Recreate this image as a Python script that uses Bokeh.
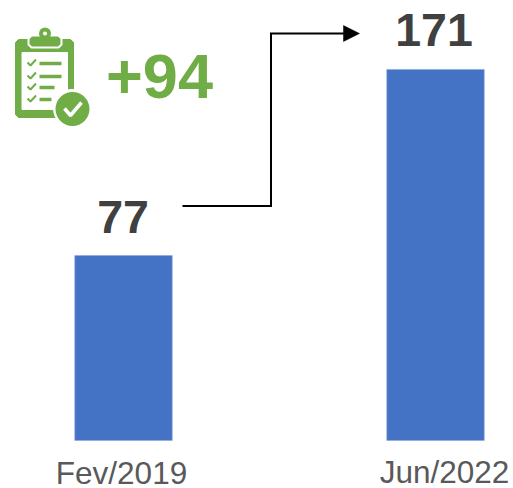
from bokeh.plotting import figure
from bokeh.embed import file_html
from bokeh.resources import INLINE
from bokeh.models import Range1d
from bokeh.core.properties import value

# Chart data
categories = ["Fev/2019", "Jun/2022"]
values = [77, 171]
delta_label = "+94"
bar_positions = [0, 1]

BLUE = "#4472C4"
GREEN = "#70AD47"
DARK = "#404040"
GREY = "#595959"
FONT = value("Liberation Sans")

W, H = 513, 488
BASE = -16.5
p = figure(width=W, height=H, output_backend="svg", toolbar_location=None,
           x_range=Range1d(-123 / 312, (W - 123) / 312),
           y_range=Range1d(BASE - 48 / 1.979, BASE + 440 / 1.979),
           min_border=0, outline_line_color=None, background_fill_color="white")
p.axis.visible = False
p.grid.visible = False

# page-pixel overlay for annotations (page coordinates, y downward)
p.extra_x_ranges = {"px": Range1d(0, W)}
p.extra_y_ranges = {"px": Range1d(H, 0)}
kw = dict(x_range_name="px", y_range_name="px")

# Bars
p.vbar(x=bar_positions, top=values, bottom=BASE, width=97.5 / 312,
       fill_color=BLUE, line_color="#8FAADC", line_width=0.6)

# Value labels
for x, y, v in zip([122.5, 433.5], [216.5, 29.5], values):
    p.text([x], [y], text=[str(v)], text_font=FONT, text_font_size="46.5px",
           text_font_style="bold", text_color=DARK, text_align="center",
           text_baseline="middle", **kw)

# Category labels
for x, y, c in zip([121, 444], [472.5, 471], categories):
    p.text([x], [y], text=[c], text_font=FONT, text_font_size="31.5px",
           text_color=GREY, text_align="center", text_baseline="middle", **kw)

# Delta label
p.text([159], [76], text=[delta_label], text_font=FONT, text_font_size="63px",
       text_font_style="bold", text_color=GREEN, text_align="center",
       text_baseline="middle", **kw)

# Elbow arrow
p.line([182, 270.5, 270.5, 345], [205.5, 205.5, 33, 33], line_color="black",
       line_width=2, line_join="miter", **kw)
p.patch([343, 359, 343], [25, 33, 41], fill_color="black", line_color="black",
        line_width=0.5, **kw)

# Clipboard icon
p.patch([18, 70, 73, 73, 70, 18, 15, 15],
        [39, 39, 42, 114, 117, 117, 114, 42],
        fill_color=GREEN, line_color=GREEN, **kw)
p.patch([21.5, 67, 67, 21.5], [52, 52, 109, 109], fill_color="white",
        line_color="white", **kw)
# clip
p.patch([31, 58, 61, 61, 58, 31, 28, 28],
        [35, 35, 38, 44, 47, 47, 44, 38],
        fill_color=GREEN, line_color="white", line_width=2, **kw)
p.scatter([44.5], [33], size=12, fill_color=GREEN, line_color=None, **kw)
p.scatter([44.5], [33], size=4, fill_color="white", line_color=None, **kw)
# check rows
for y, xe in zip([63, 76, 87, 99], [61, 61, 54, 51]):
    p.line([27, 30, 35.5], [y - 1, y + 2, y - 4], line_color=GREEN, line_width=2, **kw)
    p.line([39, xe], [y, y], line_color=GREEN, line_width=3.5, **kw)
# badge
p.scatter([72], [108], size=39, fill_color="white", line_color=None, **kw)
p.scatter([72], [108.5], size=34, fill_color=GREEN, line_color=None, **kw)
p.line([64, 70, 81], [108, 115, 102], line_color="white", line_width=3.5, **kw)

open("out.html", "w").write(file_html(p, INLINE))
